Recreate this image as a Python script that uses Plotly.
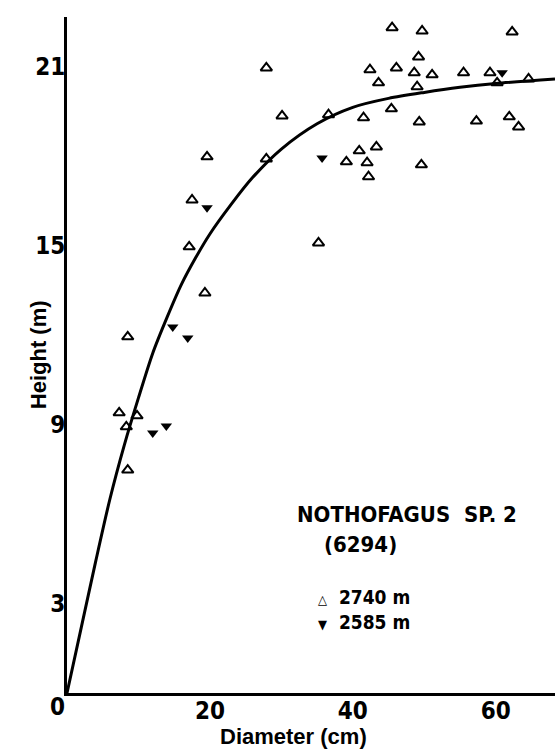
import plotly.graph_objects as go

# 2740 m (open upward triangles)
x_2740 = [27.9, 30.1, 19.6, 27.9, 17.5, 17.1, 19.3, 8.5, 7.3, 9.8, 8.3, 8.5,
          45.5, 49.7, 62.3, 49.2, 42.4, 46.1, 48.6, 51.1, 55.5, 59.2, 43.6, 49.0,
          36.6, 45.4, 41.5, 49.3, 57.3, 61.9, 63.2, 40.9, 43.3, 39.1, 42.0, 42.2,
          49.6, 35.2, 60.2, 64.6]
y_2740 = [20.97, 19.36, 17.99, 17.92, 16.54, 14.97, 13.42, 11.95, 9.40, 9.30, 8.93, 7.48,
          22.32, 22.21, 22.18, 21.34, 20.91, 20.97, 20.81, 20.74, 20.81, 20.81, 20.47, 20.34,
          19.40, 19.60, 19.30, 19.16, 19.19, 19.33, 18.99, 18.19, 18.32, 17.82, 17.79, 17.32,
          17.72, 15.10, 20.47, 20.60]

# 2585 m (filled downward triangles)
x_2585 = [19.6, 14.8, 16.9, 12.0, 13.9, 35.7, 60.9]
y_2585 = [16.28, 12.28, 11.91, 8.72, 8.96, 17.95, 20.81]

# fitted curve
curve_x = [0, 2, 4, 6, 8, 10, 12, 14, 16, 18, 20, 23, 26, 30, 35, 40, 45, 50, 55, 60, 68.3]
curve_y = [0, 2.2, 4.4, 6.5, 8.3, 9.9, 11.4, 12.6, 13.7, 14.6, 15.4, 16.4, 17.3, 18.25,
           19.1, 19.65, 19.95, 20.15, 20.32, 20.45, 20.6]

x_ticks = [20, 40, 60]
y_ticks = [3, 9, 15, 21]

NARROW = "Liberation Sans Narrow, DejaVu Sans Condensed, sans-serif"
REG = "Liberation Sans, Arial, sans-serif"

fig = go.Figure()
fig.add_trace(go.Scatter(x=curve_x, y=curve_y, mode="lines",
                         line=dict(color="black", width=3, shape="spline", smoothing=0.8),
                         showlegend=False, hoverinfo="skip"))
fig.add_trace(go.Scatter(x=x_2740, y=y_2740, mode="markers", name="2740 m",
                         showlegend=False,
                         marker=dict(symbol="triangle-up-open", size=10, color="black",
                                     line=dict(width=2, color="black"))))
fig.add_trace(go.Scatter(x=x_2585, y=y_2585, mode="markers", name="2585 m",
                         showlegend=False,
                         marker=dict(symbol="triangle-down", size=10, color="black")))

sym = "<span style='font-size:13px'>%s</span>  "
legend_text = (sym % "\u25b3") + "2740 m<br>" + (sym % "\u25bc") + "2585 m"

fig.update_layout(
    width=555, height=753,
    margin=dict(l=67, r=0, t=17, b=60),
    plot_bgcolor="white", paper_bgcolor="white",
    font=dict(family=NARROW, size=24, color="black"),
    showlegend=False,
    xaxis=dict(range=[0, 68.3], tickvals=x_ticks, ticktext=[str(v) for v in x_ticks],
               showline=True, linecolor="black", linewidth=2.5, showgrid=False,
               zeroline=False, ticks="", ticklabelstandoff=-6,
               tickfont=dict(family=NARROW, size=24, weight="bold")),
    yaxis=dict(range=[0, 22.68], tickvals=y_ticks, ticktext=[str(v) for v in y_ticks],
               showline=True, linecolor="black", linewidth=3, showgrid=False,
               zeroline=False, ticks="", ticklabelstandoff=-6,
               tickfont=dict(family=NARROW, size=24, weight="bold")),
    annotations=[
        dict(text="Height (m)", xref="paper", yref="paper", x=-0.059, y=0.5,
             textangle=-90, showarrow=False, xanchor="center", yanchor="middle",
             font=dict(family=REG, size=22, weight="bold")),
        dict(text="Diameter (cm)", xref="paper", yref="paper", x=(293 - 67) / 488,
             y=(693 - 736) / 676, showarrow=False, xanchor="center", yanchor="middle",
             font=dict(family=REG, size=22, weight="bold")),
        dict(text="0", xref="paper", yref="paper", x=(57 - 67) / 488, y=(693 - 707) / 676,
             showarrow=False, xanchor="center", yanchor="middle",
             font=dict(family=NARROW, size=24, weight="bold")),
        dict(text="NOTHOFAGUS  SP. 2", x=31.9, y=6.0, xref="x", yref="y", showarrow=False,
             xanchor="left", yanchor="middle",
             font=dict(family=NARROW, size=22, weight="bold")),
        dict(text="(6294)", x=35.7, y=4.97, xref="x", yref="y", showarrow=False,
             xanchor="left", yanchor="middle",
             font=dict(family=NARROW, size=22, weight="bold")),
        dict(text=legend_text, x=34.9, y=2.79, xref="x", yref="y",
             showarrow=False, xanchor="left", yanchor="middle", align="left",
             font=dict(family=NARROW, size=19, weight="bold")),
    ],
)

fig.write_html("out.html")
